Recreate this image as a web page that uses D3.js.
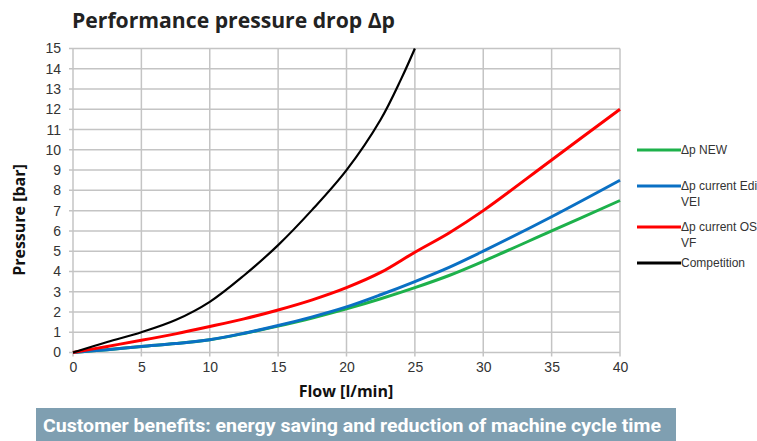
<!DOCTYPE html>
<html>
<head>
<meta charset="utf-8">
<script src="https://cdn.jsdelivr.net/npm/d3@7"></script>
<style>
  body { margin: 0; background: #fff; }
  svg { display: block; }
</style>
</head>
<body>
<div id="chart"></div>
<script>
// flow values in l/min
let flow = [0, 2.5, 5, 7.5, 10, 12.5, 15, 17.5, 20, 22.5, 25, 27.5, 30, 35, 40]
let dpNew = [0, 0.14, 0.3, 0.44, 0.63, 0.94, 1.3, 1.7, 2.15, 2.65, 3.2, 3.8, 4.5, 6.0, 7.5]
let dpEdi = [0, 0.14, 0.3, 0.44, 0.63, 0.95, 1.33, 1.76, 2.25, 2.85, 3.5, 4.2, 5.0, 6.7, 8.5]
let dpOS = [0, 0.3, 0.6, 0.92, 1.28, 1.66, 2.1, 2.6, 3.2, 3.95, 4.95, 5.9, 7.0, 9.5, 12]

let compFlow = [0, 2.5, 5, 7.5, 10, 12.5, 15, 17.5, 20, 22.5, 24, 25]
let compDp = [0, 0.52, 1.0, 1.6, 2.5, 3.8, 5.3, 7.05, 9.0, 11.5, 13.5, 15]

let xTicks = [0, 5, 10, 15, 20, 25, 30, 35, 40]
let yTicks = d3.range(0, 16)

let series = [
  { name: ["Δp NEW"], x: flow, y: dpNew, color: "#1db14b", w: 3 },
  { name: ["Δp current Edi -", "VEI"], x: flow, y: dpEdi, color: "#0a70c4", w: 3 },
  { name: ["Δp current OS -", "VF"], x: flow, y: dpOS, color: "#ff0000", w: 3 },
  { name: ["Competition"], x: compFlow, y: compDp, color: "#000000", w: 2.2 }
]

let W = 757, H = 441
let svg = d3.select("#chart").append("svg")
  .attr("width", W)
  .attr("height", H)

let x = d3.scaleLinear().domain([0, 40]).range([73, 620])
let y = d3.scaleLinear().domain([0, 15]).range([352.5, 48.5])

// title
svg.append("text")
  .attr("x", 72).attr("y", 28)
  .attr("font-family", "Open Sans, sans-serif")
  .attr("font-weight", "bold")
  .attr("font-size", 21)
  .attr("fill", "#222")
  .attr("textLength", 323)
  .attr("lengthAdjust", "spacingAndGlyphs")
  .text("Performance pressure drop Δp")

// grid
let grid = svg.append("g").attr("stroke", "#c4c4c4").attr("stroke-width", 1.5)
grid.selectAll(".gx").data(xTicks).join("line")
  .attr("x1", d => x(d)).attr("x2", d => x(d))
  .attr("y1", y(15)).attr("y2", y(0) + 4)
grid.selectAll(".gy").data(yTicks).join("line")
  .attr("x1", x(0) - 4).attr("x2", x(40))
  .attr("y1", d => y(d)).attr("y2", d => y(d))

// tick labels via d3 axes (no domain lines)
let xAxis = svg.append("g")
  .attr("transform", `translate(0,${y(0) + 6})`)
  .call(d3.axisBottom(x).tickValues(xTicks).tickSize(0).tickPadding(4))
xAxis.select(".domain").remove()
xAxis.selectAll("text")
  .attr("font-family", "Liberation Sans, Arial, sans-serif")
  .attr("font-size", 14)
  .attr("fill", "#333")

let yAxis = svg.append("g")
  .attr("transform", `translate(${x(0) - 6},0)`)
  .call(d3.axisLeft(y).tickValues(yTicks).tickSize(0).tickPadding(6))
yAxis.select(".domain").remove()
yAxis.selectAll("text")
  .attr("font-family", "Liberation Sans, Arial, sans-serif")
  .attr("font-size", 14)
  .attr("fill", "#333")

svg.append("text")
  .attr("x", 346).attr("y", 397)
  .attr("text-anchor", "middle")
  .attr("font-family", "Open Sans, sans-serif")
  .attr("font-weight", "bold")
  .attr("font-size", 16)
  .attr("fill", "#111")
  .text("Flow [l/min]")

svg.append("text")
  .attr("transform", "translate(25,220) rotate(-90)")
  .attr("text-anchor", "middle")
  .attr("font-family", "Open Sans, sans-serif")
  .attr("font-weight", "bold")
  .attr("font-size", 16)
  .attr("fill", "#111")
  .text("Pressure [bar]")

// lines
let line = d3.line().curve(d3.curveCatmullRom.alpha(0.5))
svg.append("g").selectAll("path").data(series).join("path")
  .attr("d", s => line(s.x.map((v, i) => [x(v), y(s.y[i])])))
  .attr("fill", "none")
  .attr("stroke", s => s.color)
  .attr("stroke-width", s => s.w)
  .attr("stroke-linejoin", "round")

// legend
let legY = [150, 186, 227, 263]
let leg = svg.append("g")
series.forEach((s, i) => {
  leg.append("line")
    .attr("x1", 637).attr("x2", 681)
    .attr("y1", legY[i]).attr("y2", legY[i])
    .attr("stroke", s.color)
    .attr("stroke-width", 3)
  s.name.forEach((t, j) => {
    leg.append("text")
      .attr("x", 681).attr("y", legY[i] + 4 + j * 16)
      .attr("font-family", "Liberation Sans, Arial, sans-serif")
      .attr("font-size", 12)
      .attr("fill", "#333")
      .text(t)
  })
})

// banner
svg.append("rect")
  .attr("x", 36).attr("y", 408)
  .attr("width", 640).attr("height", 33)
  .attr("fill", "#7f9fb1")
svg.append("text")
  .attr("x", 43).attr("y", 432)
  .attr("font-family", "Roboto, sans-serif")
  .attr("font-weight", "bold")
  .attr("font-size", 18)
  .attr("fill", "#fff")
  .attr("textLength", 618)
  .attr("lengthAdjust", "spacingAndGlyphs")
  .text("Customer benefits: energy saving and reduction of machine cycle time")
</script>
</body>
</html>
